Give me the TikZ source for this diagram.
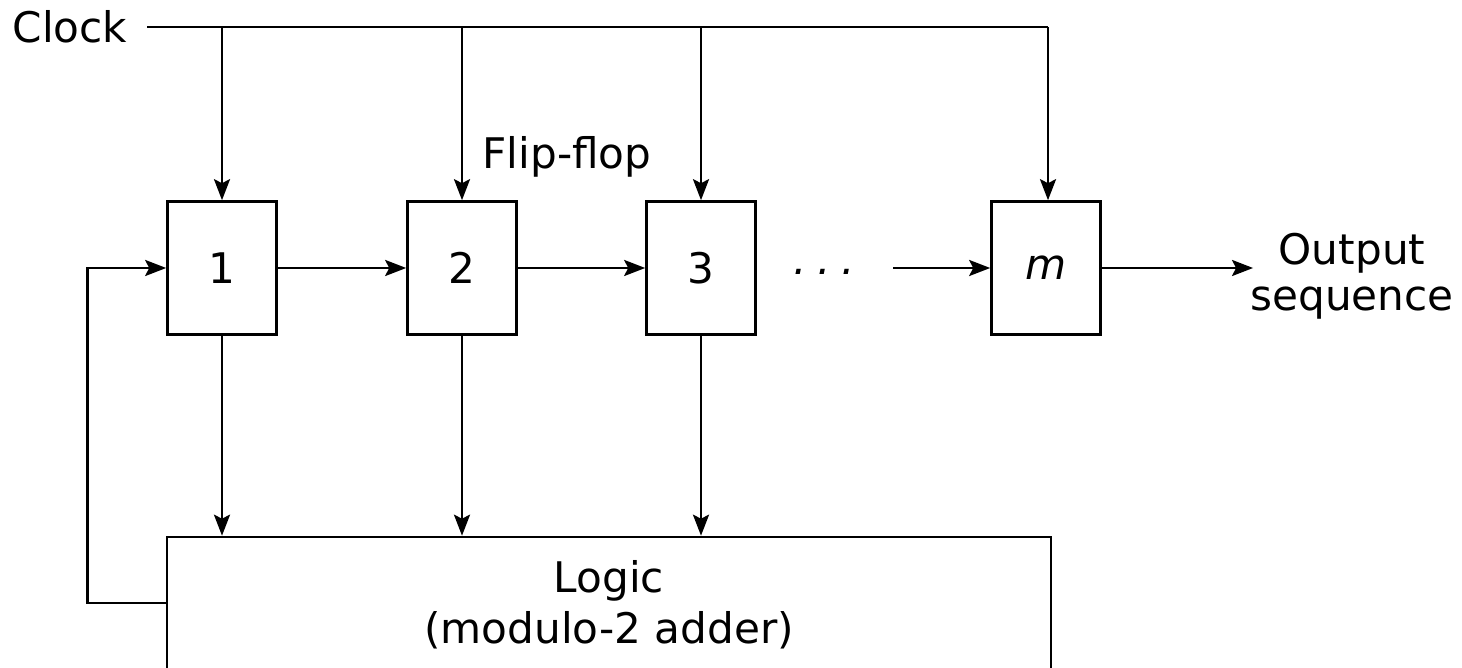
\documentclass[tikz,border=0pt]{standalone}
\usepackage{fontspec}
\setmainfont{DejaVu Sans}
\usepackage{tikz}
\usetikzlibrary{arrows.meta,positioning}

\begin{document}
\begin{tikzpicture}[x=0.02cm, y=-0.02cm,
    every node/.style={font=\fontsize{24pt}{29pt}\selectfont},
    ff/.style={draw, line width=1.5pt, minimum width=2.18cm, minimum height=2.66cm, inner sep=0pt},
    logicbox/.style={draw, line width=1.5pt, minimum width=17.68cm, minimum height=2.72cm, align=center, inner sep=0pt},
    sig/.style={line width=1.5pt, -{Stealth[length=0.42cm, width=0.32cm, inset=0.08cm]}},
    wire/.style={line width=1.5pt}
  ]
  \useasboundingbox (0,0) rectangle (1462,668);
  \clip (0,0) rectangle (1462,668);

  % Flip-flops
  \node[ff] (ff1) at (222,268) {1};
  \node[ff] (ff2) at (462,268) {2};
  \node[ff] (ff3) at (701,268) {3};
  \node[ff] (ffm) at (1046,268) {\textit{m}};
  \node (dots) at (824,272) {\textit{.\hspace{6pt}.\hspace{6pt}.}};
  \coordinate (gap) at (893,268);

  % Logik
  \node[logicbox] (logic) at (609,605) {Logic\\[0pt](modulo-2 adder)};

  % Takt
  \node (clk) at (70,27) {Clock};
  \coordinate (clkend) at (1048,27);
  \draw[wire] ([xshift=0.28cm]clk.east) -- (clkend);
  \foreach \f in {ff1,ff2,ff3}
    \draw[sig] (\f.north |- clkend) -- (\f.north);
  \draw[sig] (clkend) -- (clkend |- ffm.north);
  \node (flbl) at (567,157) {Flip-flop};

  % Schieberegister
  \draw[sig] (ff1) -- (ff2);
  \draw[sig] (ff2) -- (ff3);
  \draw[sig] (gap) -- (ffm);

  % Ausgang
  \node[align=center, inner sep=0pt] (out) at (1352,276) {Output\\[-3pt]sequence};
  \draw[sig] (ffm.east) -- ([xshift=0.06cm]ffm.east -| out.west);

  % Abgriffe
  \foreach \f in {ff1,ff2,ff3}
    \draw[sig] (\f.south) -- (\f.south |- logic.north);

  % Rueckfuehrung
  \draw[sig] ([yshift=0.04cm]logic.west) -| ++(-78,0) |- (ff1.west);
\end{tikzpicture}
\end{document}
